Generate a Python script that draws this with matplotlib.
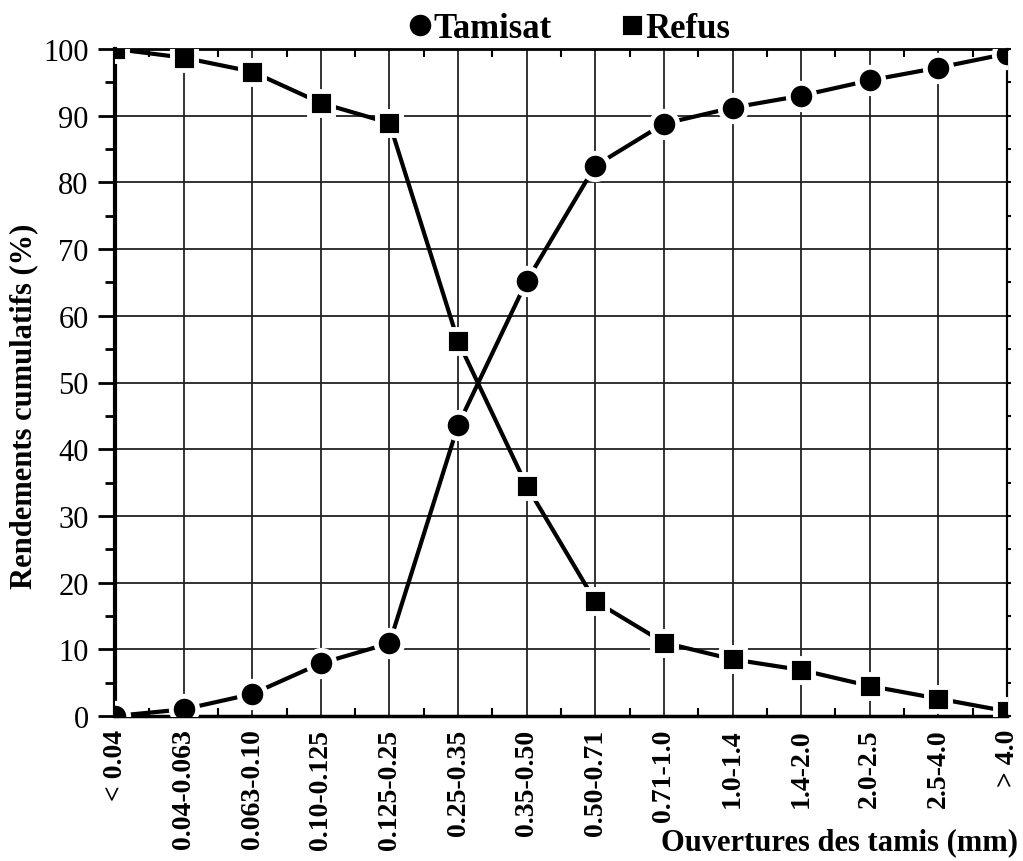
import matplotlib.pyplot as plt
from matplotlib.ticker import MultipleLocator, FixedLocator, NullFormatter

plt.rcParams['font.family'] = ['Liberation Serif', 'DejaVu Serif']

# Ouvertures des tamis (mm) et rendements cumulatifs (%)
classes = ['< 0.04', '0.04-0.063', '0.063-0.10', '0.10-0.125', '0.125-0.25',
           '0.25-0.35', '0.35-0.50', '0.50-0.71', '0.71-1.0', '1.0-1.4',
           '1.4-2.0', '2.0-2.5', '2.5-4.0', '> 4.0']
tamisat = [0, 1.0, 3.3, 7.9, 10.9, 43.6, 65.2, 82.5, 88.8, 91.2, 93.0, 95.3, 97.2, 99.3]
refus = [100, 98.7, 96.6, 91.9, 88.9, 56.2, 34.5, 17.2, 11.0, 8.5, 6.9, 4.5, 2.6, 0.7]

x = list(range(len(classes)))

fig = plt.figure(figsize=(10.23, 8.62), dpi=100)
ax = fig.add_axes([115 / 1023, 1 - 717 / 862, 892 / 1023, 667 / 862])

ax.plot(x, tamisat, color='black', lw=3, marker='o', ms=19,
        mfc='black', mec='white', mew=3.5, label='Tamisat', zorder=3)
ax.plot(x, refus, color='black', lw=3, marker='s', ms=17,
        mfc='black', mec='white', mew=3.5, label='Refus', zorder=3)

ax.set_xlim(0, len(classes) - 1)
ax.set_ylim(0, 100)
ax.set_xticks(x)
ax.set_xticklabels(classes, rotation=90, fontsize=20, fontweight='bold')
ax.xaxis.set_minor_locator(FixedLocator([i + 0.5 for i in x[:-1]]))
ax.yaxis.set_major_locator(MultipleLocator(10))
ax.yaxis.set_minor_locator(MultipleLocator(5))
ax.tick_params(axis='y', which='major', labelsize=22, direction='out', length=12, width=2, pad=7)
ax.tick_params(axis='y', which='minor', direction='out', length=7, width=2)
ax.tick_params(axis='x', which='major', direction='in', length=0, pad=9)
ax.tick_params(axis='x', which='minor', direction='in', length=6, width=1.5, top=True)
ax.grid(True, which='major', color='#222222', lw=1.3)

# short ticks on the right edge
right = ax.secondary_yaxis('right')
right.yaxis.set_major_locator(MultipleLocator(10))
right.yaxis.set_minor_locator(MultipleLocator(5))
right.yaxis.set_major_formatter(NullFormatter())
right.tick_params(which='both', direction='out', length=3, width=1.5)
right.spines['right'].set_linewidth(1.5)

ax.spines['left'].set_linewidth(3)
ax.spines['bottom'].set_linewidth(2.5)
ax.spines['top'].set_linewidth(2)
ax.spines['right'].set_linewidth(1.5)

fig.text(24 / 1023, 1 - 406 / 862, 'Rendements cumulatifs (%)', fontsize=22,
         fontweight='bold', rotation=90, ha='center', va='center')
fig.text(1018 / 1023, 1 - 843 / 862, 'Ouvertures des tamis (mm)', fontsize=22,
         fontweight='bold', ha='right', va='center')

leg = ax.legend(loc='lower center', bbox_to_anchor=(0.51, 0.985), ncol=2, frameon=False,
                prop={'size': 25, 'weight': 'bold'}, handlelength=0.6, handletextpad=0.1,
                columnspacing=2.0, borderaxespad=0)
for h in leg.legend_handles:
    h.set_linestyle('none')

fig.savefig('out.png', dpi=100)
